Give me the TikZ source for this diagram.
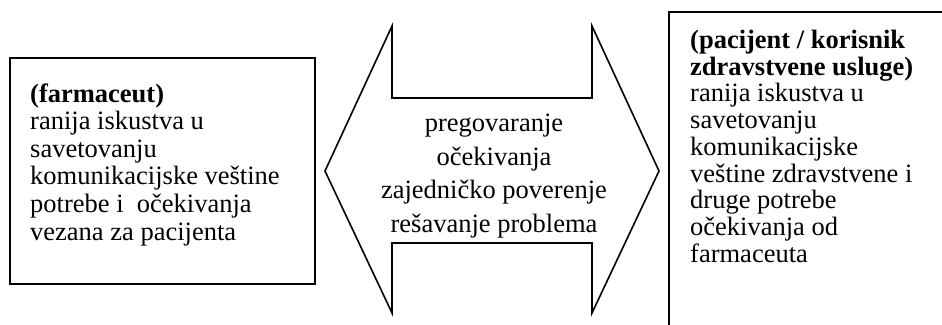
\documentclass[tikz,border=0pt]{standalone}
\usepackage{fontspec}
\setmainfont{Liberation Serif}
\begin{document}
\begin{tikzpicture}[x=1pt,y=-1pt,
  frame/.style={draw=black, line width=1.6pt, rectangle, inner sep=0pt, anchor=north west},
  boxtext/.style={anchor=base west, inner sep=0pt},
  midtext/.style={anchor=base, inner sep=0pt},
  arrowline/.style={draw=black, line width=1.6pt, line join=miter}]
  \useasboundingbox (0,0) rectangle (942,324);
  \clip (0,0) rectangle (942,324);

  % left box: pharmacist
  \node[frame, minimum width=305pt, minimum height=226pt] (pharm) at (9,57) {};
  \node[boxtext] (pharmtext) at (30,102) {\parbox[t]{280pt}{\raggedright
    \fontsize{26.5}{27.6}\selectfont
    \textbf{(farmaceut)}\\
    ranija iskustva u\\
    savetovanju\\
    komunikacijske veštine\\
    potrebe i\ \ očekivanja\\
    vezana za pacijenta}};

  % right box: patient, running past the page edge
  \node[frame, minimum width=300pt, minimum height=340pt] (patient) at (668,11) {};
  \node[boxtext] (patienttext) at (690,48.5) {\parbox[t]{250pt}{\raggedright
    \fontsize{26.5}{26.7}\selectfont
    \textbf{(pacijent / korisnik}\\
    \textbf{zdravstvene usluge)}\\
    ranija iskustva u\\
    savetovanju\\
    komunikacijske\\
    veštine zdravstvene i\\
    druge potrebe\\
    očekivanja od\\
    farmaceuta}};

  % double-headed arrow between the two sides
  \coordinate (tipL) at (325,171);
  \coordinate (tipR) at (659,171);
  \path[arrowline] (tipL) -- (392,26) -- (392,98) -- (592,98) -- (592,26)
    -- (tipR) -- (592,313) -- (592,243) -- (392,243) -- (392,313) -- cycle;

  \node[midtext] (exchange) at (494,131.5) {\parbox[t]{260pt}{\centering
    \fontsize{26.5}{33.6}\selectfont
    pregovaranje\\
    očekivanja\\
    zajedničko poverenje\\
    rešavanje problema}};
\end{tikzpicture}
\end{document}
